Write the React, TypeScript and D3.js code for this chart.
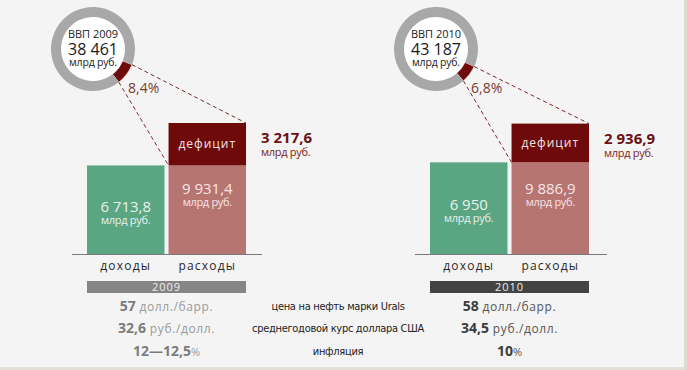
import * as d3 from 'd3';
import React, { useEffect, useRef } from 'react';

// data
const years = ['2009', '2010'];
const gdp = ['38 461', '43 187'];
const categories = ['доходы', 'расходы'];
const revenue = [6713.8, 6950];
const expenses = [9931.4, 9886.9];
const deficit = [3217.6, 2936.9];
const deficitShare = [8.4, 6.8];
const indicatorLabels = ['цена на нефть марки Urals', 'среднегодовой курс доллара США', 'инфляция'];
const oilPrice = ['57', '58'];
const usdRate = ['32,6', '34,5'];
const inflation = ['12—12,5', '10'];

const W = 687;
const H = 370;
const FONT = '"Open Sans", "DejaVu Sans", sans-serif';
const NARROW = '"DejaVu Sans Condensed", "Liberation Sans Narrow", "Open Sans", sans-serif';

const fmt = (v: number) => d3.format(',')(v).replace(/,/g, '\u00a0').replace('.', ',');

export default function App() {
  const svgRef = useRef<SVGSVGElement | null>(null);

  useEffect(() => {
    if (!svgRef.current) return;
    const svg = d3.select(svgRef.current);
    svg.selectAll('*').remove();

    svg.append('rect').attr('width', W).attr('height', H).attr('fill', '#f4f4f4');
    svg.append('rect').attr('x', 0).attr('y', 367).attr('width', W).attr('height', 3).attr('fill', '#e2e0d5');
    svg.append('rect').attr('x', 684).attr('y', 0).attr('width', 3).attr('height', H).attr('fill', '#dcdbd2');

    const panelX = d3.scaleOrdinal<string, number>().domain(years).range([87, 430]);
    const panelW = 159;
    const baseY = 254;

    const x = d3.scaleBand<string>().domain(categories).range([0, panelW]).paddingInner(0.05);
    const y = d3.scaleLinear().domain([0, 10000]).range([baseY, baseY - 131.9]);

    const arc = d3.arc<d3.PieArcDatum<number>>().innerRadius(32).outerRadius(42);

    years.forEach((yr, i) => {
      const g = svg.append('g').attr('transform', `translate(${panelX(yr)},0)`);
      const cx = 6;
      const cy = 49;

      // baseline
      g.append('line')
        .attr('x1', -15).attr('x2', i === 0 ? 175 : 177)
        .attr('y1', baseY + 0.5).attr('y2', baseY + 0.5)
        .attr('stroke', '#7a7a7a').attr('stroke-width', 1);

      const xr = x('доходы')!;
      const xe = x('расходы')!;
      const bw = x.bandwidth();
      // revenue bar
      g.append('rect')
        .attr('x', xr).attr('y', y(revenue[i]))
        .attr('width', bw).attr('height', y(0) - y(revenue[i]))
        .attr('fill', '#5aa582');
      // expenses, lower part
      g.append('rect')
        .attr('x', xe).attr('y', y(revenue[i]))
        .attr('width', bw).attr('height', y(0) - y(revenue[i]))
        .attr('fill', '#b77572');
      // deficit part
      g.append('rect')
        .attr('x', xe).attr('y', y(expenses[i]))
        .attr('width', bw).attr('height', y(expenses[i] - deficit[i]) - y(expenses[i]))
        .attr('fill', '#6f0a0a');

      // donut
      const share = deficitShare[i];
      const mid = (127 * Math.PI) / 180;
      const half = ((share / 100) * Math.PI * 2) / 2;
      const pie = d3.pie<number>().sort(null).startAngle(mid - half).endAngle(mid - half + Math.PI * 2);
      const arcs = pie([share, 100 - share]);
      const dg = g.append('g').attr('transform', `translate(${cx},${cy})`);
      dg.append('circle').attr('r', 32).attr('fill', '#ffffff');
      dg.selectAll('path')
        .data(arcs)
        .enter()
        .append('path')
        .attr('d', (d) => arc(d))
        .attr('fill', (d, j) => (j === 0 ? '#6f0a0a' : '#a8a8a8'))
        .attr('stroke', (d, j) => (j === 0 ? '#f4dede' : 'none'))
        .attr('stroke-width', 0.6);

      // dashed connectors from the segment to the deficit box
      const a0 = arcs[0].startAngle;
      const a1 = arcs[0].endAngle;
      const pt = (a: number, r: number) => [cx + r * Math.sin(a), cy - r * Math.cos(a)];
      const p0 = pt(a0, 42);
      const p1 = pt(a1, 42);
      g.append('line')
        .attr('x1', p0[0]).attr('y1', p0[1])
        .attr('x2', xe + bw).attr('y2', y(expenses[i]))
        .attr('stroke', '#7b2a2a').attr('stroke-width', 1).attr('stroke-dasharray', '4,3');
      g.append('line')
        .attr('x1', p1[0]).attr('y1', p1[1])
        .attr('x2', xe).attr('y2', y(revenue[i]))
        .attr('stroke', '#7b2a2a').attr('stroke-width', 1).attr('stroke-dasharray', '4,3');

      // donut texts
      const dt = g.append('g').attr('font-family', FONT).attr('text-anchor', 'middle').attr('fill', '#1a1a1a');
      dt.append('text').attr('x', cx).attr('y', cy - 11).attr('font-size', 11).text(`ВВП ${yr}`);
      dt.append('text').attr('x', cx).attr('y', cy + 6).attr('font-size', 16).text(gdp[i]);
      dt.append('text').attr('x', cx).attr('y', cy + 17).attr('font-size', 10.5).attr('letter-spacing', -0.2).text('млрд руб.');

      g.append('text')
        .attr('x', cx + 35).attr('y', cy + 44)
        .attr('font-family', FONT).attr('font-size', 14).attr('fill', '#7b3a30')
        .text(`${String(share).replace('.', ',')}%`);

      // bar labels
      const revMid = (y(revenue[i]) + y(0)) / 2;
      g.append('text')
        .attr('x', xr + bw / 2).attr('y', revMid + 2)
        .attr('text-anchor', 'middle').attr('font-family', FONT).attr('font-size', 15)
        .attr('fill', '#e8f2ec').text(fmt(revenue[i]));
      g.append('text')
        .attr('x', xr + bw / 2).attr('y', revMid + 14)
        .attr('text-anchor', 'middle').attr('font-family', FONT).attr('font-size', 11)
        .attr('fill', '#e8f2ec').attr('letter-spacing', -0.3).text('млрд руб.');

      const expMid = (y(expenses[i]) + y(0)) / 2;
      g.append('text')
        .attr('x', xe + bw / 2).attr('y', expMid + 5)
        .attr('text-anchor', 'middle').attr('font-family', FONT).attr('font-size', 15)
        .attr('fill', '#f6e6e6').text(fmt(expenses[i]));
      g.append('text')
        .attr('x', xe + bw / 2).attr('y', expMid + 17)
        .attr('text-anchor', 'middle').attr('font-family', FONT).attr('font-size', 11)
        .attr('fill', '#f6e6e6').attr('letter-spacing', -0.3).text('млрд руб.');

      const defMid = (y(expenses[i]) + y(revenue[i])) / 2;
      g.append('text')
        .attr('x', xe + bw / 2).attr('y', defMid + 4)
        .attr('text-anchor', 'middle').attr('font-family', FONT).attr('font-size', 12)
        .attr('letter-spacing', 1).attr('fill', '#f3e3e3').text('дефицит');

      // deficit value on the right
      g.append('text')
        .attr('x', xe + bw + 15).attr('y', y(expenses[i]) + 20)
        .attr('font-family', FONT).attr('font-size', 15).attr('font-weight', 'bold')
        .attr('fill', '#6a1014').text(fmt(deficit[i]));
      g.append('text')
        .attr('x', xe + bw + 15).attr('y', y(expenses[i]) + 33)
        .attr('font-family', FONT).attr('font-size', 11).attr('letter-spacing', -0.3)
        .attr('fill', '#7a2424').text('млрд руб.');

      // category labels
      g.selectAll('.cat')
        .data(categories)
        .enter()
        .append('text')
        .attr('x', (d) => x(d)! + bw / 2)
        .attr('y', baseY + 16)
        .attr('text-anchor', 'middle').attr('font-family', FONT).attr('font-size', 12)
        .attr('letter-spacing', 1.2).attr('fill', '#2a2a2a')
        .text((d) => d);

      // year strip
      g.append('rect')
        .attr('x', 0).attr('y', 281).attr('width', panelW).attr('height', 12)
        .attr('fill', i === 0 ? '#858585' : '#434343');
      g.append('text')
        .attr('x', panelW / 2).attr('y', 291)
        .attr('text-anchor', 'middle').attr('font-family', FONT).attr('font-size', 11)
        .attr('letter-spacing', 1).attr('fill', '#eeeeee').text(yr);

      // indicators table
      const numColor = i === 0 ? '#7c7c7c' : '#3c3c3c';
      const unitColor = i === 0 ? '#9a9a9a' : '#555555';
      const rows = [
        [oilPrice[i], ' долл./барр.'],
        [usdRate[i], ' руб./долл.'],
        [inflation[i], '%'],
      ];
      const rowY = [311, 333, 356];
      rows.forEach((r, k) => {
        const t = g.append('text')
          .attr('x', panelW / 2).attr('y', rowY[k])
          .attr('text-anchor', 'middle').attr('font-family', FONT);
        t.append('tspan').attr('font-size', 14).attr('font-weight', 'bold').attr('fill', numColor).text(r[0]);
        t.append('tspan').attr('font-size', k === 2 ? 11 : 12).attr('fill', unitColor)
          .attr('letter-spacing', k === 2 ? 0 : 0.6).text(r[1]);
      });
    });

    // middle column labels
    const midX = (246 + 430) / 2;
    svg.selectAll('.ind')
      .data(indicatorLabels)
      .enter()
      .append('text')
      .attr('x', midX)
      .attr('y', (d, k) => [310, 332, 355][k])
      .attr('text-anchor', 'middle').attr('font-family', NARROW).attr('font-size', 11)
      .attr('letter-spacing', -0.3).attr('fill', '#222222')
      .text((d) => d);
  }, []);

  return (
    <div style={{ position: 'absolute', left: 0, top: 0, width: W, height: H }}>
      <svg ref={svgRef} width={W} height={H} style={{ display: 'block' }} />
    </div>
  );
}
